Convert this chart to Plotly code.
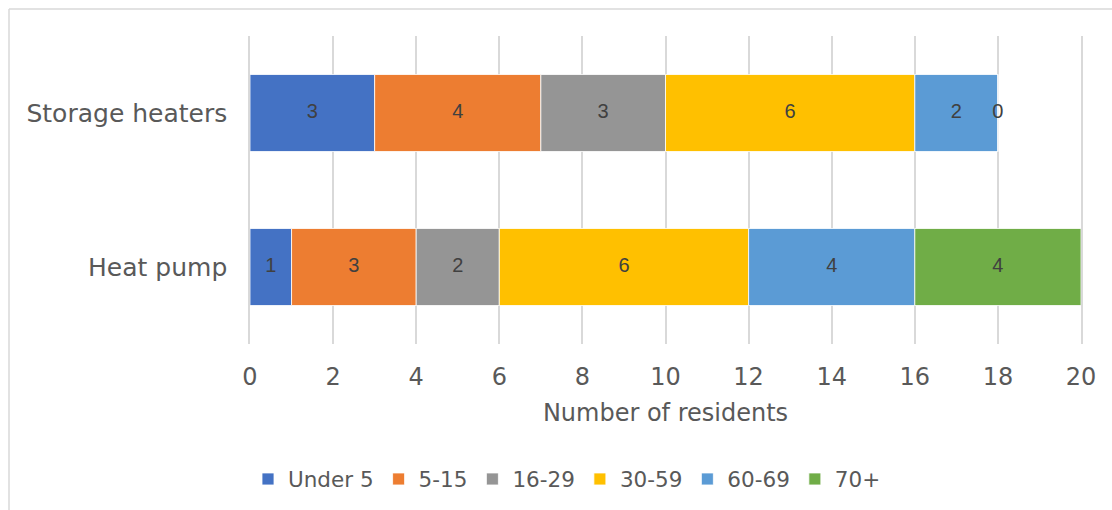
import plotly.graph_objects as go

categories = ["Storage heaters", "Heat pump"]
age_groups = ["Under 5", "5-15", "16-29", "30-59", "60-69", "70+"]
under5 = [3, 1]
age5_15 = [4, 3]
age16_29 = [3, 2]
age30_59 = [6, 6]
age60_69 = [2, 4]
age70 = [0, 4]
colors = ["#4472C4", "#ED7D31", "#959595", "#FFC000", "#5B9BD5", "#70AD47"]
x_ticks = list(range(0, 21, 2))

series = [under5, age5_15, age16_29, age30_59, age60_69, age70]

fig = go.Figure()
base = [0, 0]
lab_x, lab_y, lab_t = [], [], []
for name, vals, col in zip(age_groups, series, colors):
    fig.add_trace(go.Bar(
        y=categories, x=vals, name=name, orientation="h", base=list(base),
        marker=dict(color=col, line=dict(color="white", width=0.8)),
        hoverinfo="x+name",
    ))
    for i, v in enumerate(vals):
        lab_x.append(base[i] + v / 2)
        lab_y.append(categories[i])
        lab_t.append(str(v))
    base = [b + v for b, v in zip(base, vals)]

fig.add_trace(go.Scatter(
    x=lab_x, y=lab_y, text=lab_t, mode="text", showlegend=False,
    textfont=dict(family="Liberation Sans", size=20, color="#404040"),
    hoverinfo="skip",
))

W, H = 1112, 510
L, R, T, B = 250, 1081, 36, 345
fig.update_layout(
    width=W, height=H,
    margin=dict(l=L, r=W - R, t=T, b=H - B),
    barmode="overlay",
    bargap=0.5,
    plot_bgcolor="white", paper_bgcolor="white",
    font=dict(family="DejaVu Sans", color="#595959"),
    showlegend=True,
    legend=dict(
        orientation="h", x=(567 - L) / (R - L), xanchor="center",
        y=(B - 479) / (B - T), yanchor="middle",
        font=dict(size=21.5, color="#595959"), traceorder="normal",
        itemwidth=30,
    ),
    xaxis=dict(
        range=[0, 20], tickvals=x_ticks, showgrid=True, gridcolor="#D9D9D9",
        gridwidth=1.5, zeroline=False, showline=False,
        tickfont=dict(size=24, color="#595959"), ticklabelstandoff=16,
        title=dict(text="Number of residents", font=dict(size=24, color="#595959"), standoff=14),
    ),
    yaxis=dict(
        autorange="reversed", showgrid=False, zeroline=False,
        showline=True, mirror=True, linecolor="#D9D9D9", linewidth=1.5,
        tickfont=dict(size=25, color="#595959"), ticklabelstandoff=16,
    ),
    shapes=[
        dict(type="line", xref="paper", yref="paper", x0=(9 - L) / (R - L), x1=(1120 - L) / (R - L),
             y0=(B - 9) / (B - T), y1=(B - 9) / (B - T), line=dict(color="#D9D9D9", width=1.5)),
        dict(type="line", xref="paper", yref="paper", x0=(9 - L) / (R - L), x1=(9 - L) / (R - L),
             y0=(B - 9) / (B - T), y1=(B - 520) / (B - T), line=dict(color="#D9D9D9", width=1.5)),
    ],
)

fig.write_html("out.html")
